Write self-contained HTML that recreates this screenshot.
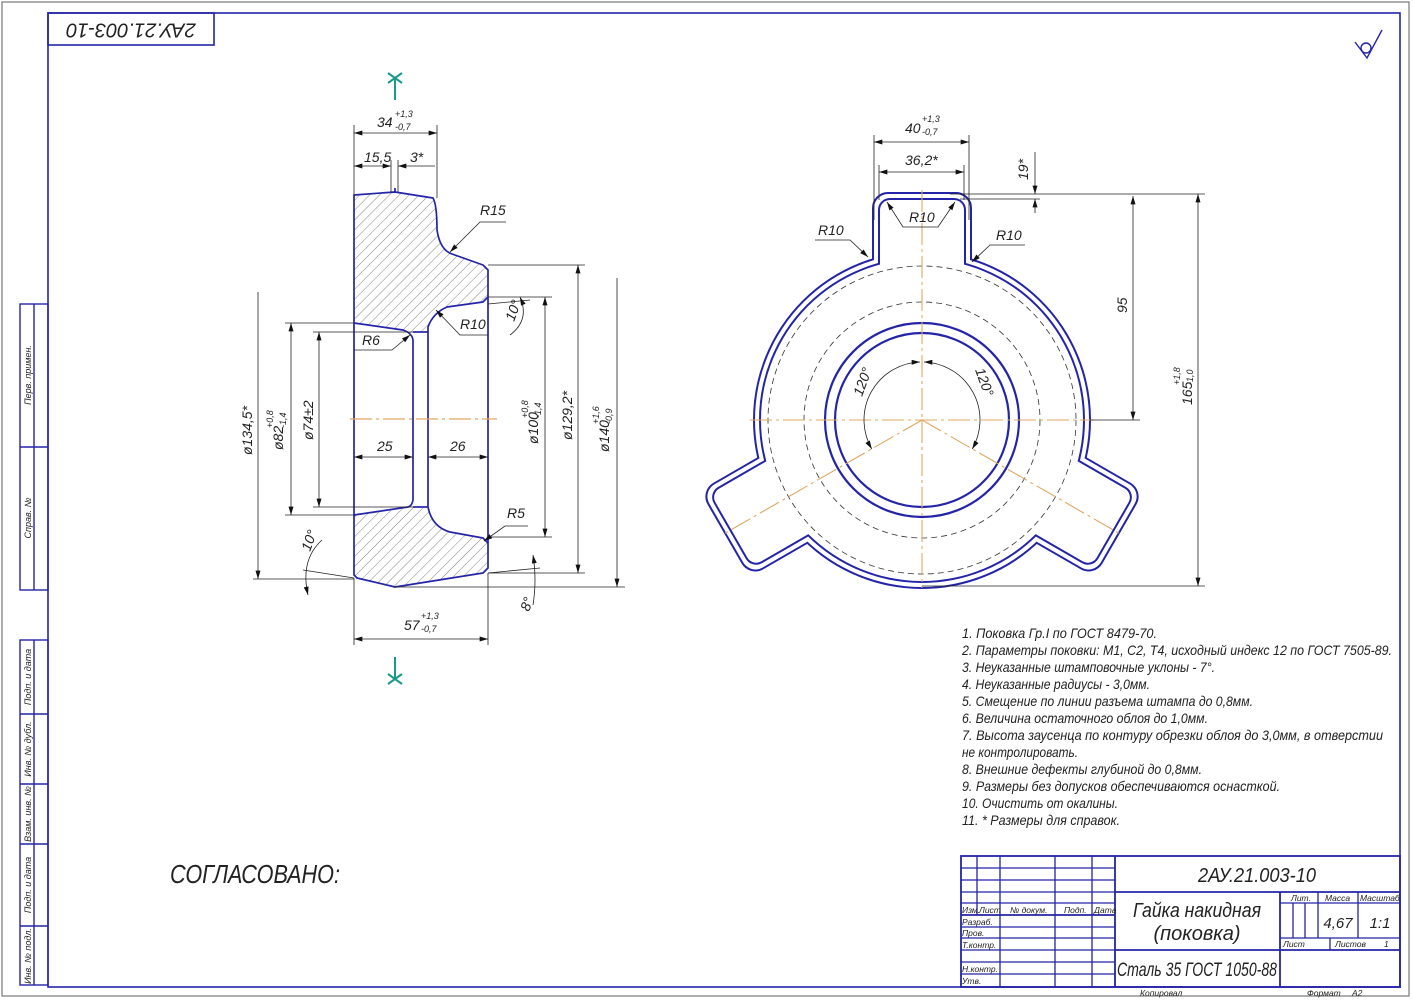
<!DOCTYPE html>
<html><head><meta charset="utf-8"><style>
html,body{margin:0;padding:0;background:#fff}
svg{display:block}
text{font-family:"Liberation Sans",sans-serif;font-style:italic;fill:#222}
</style></head><body>
<svg width="1413" height="1000" viewBox="0 0 1413 1000" xmlns="http://www.w3.org/2000/svg">
<defs>
<marker id="a" viewBox="0 0 10 6" refX="10" refY="3" markerWidth="9" markerHeight="5" markerUnits="userSpaceOnUse" orient="auto-start-reverse"><path d="M0,0 L10,3 L0,6z" fill="#111"/></marker>
<pattern id="h" patternUnits="userSpaceOnUse" width="7" height="7" patternTransform="rotate(45)"><line x1="0" y1="0" x2="0" y2="7" stroke="#666" stroke-width="0.8"/></pattern>
<g id="U1"><circle cx="0" cy="0" r="167"/><rect x="-48" y="-226" width="96" height="140" rx="14"/><rect x="-48" y="-226" width="96" height="140" rx="14" transform="rotate(120)"/><rect x="-48" y="-226" width="96" height="140" rx="14" transform="rotate(240)"/></g>
<g id="U2"><circle cx="0" cy="0" r="161"/><rect x="-42" y="-220" width="84" height="140" rx="10"/><rect x="-42" y="-220" width="84" height="140" rx="10" transform="rotate(120)"/><rect x="-42" y="-220" width="84" height="140" rx="10" transform="rotate(240)"/></g>
</defs>

<!-- outer gray border -->
<rect x="2" y="2" width="1407" height="994" fill="none" stroke="#777" stroke-width="1.2"/>
<!-- blue frame -->
<rect x="48" y="13" width="1352" height="974" fill="none" stroke="#2424a8" stroke-width="1.6"/>
<rect x="48" y="13" width="166" height="32" fill="none" stroke="#2424a8" stroke-width="1.6"/>
<text transform="translate(131,29) rotate(180)" font-size="20" text-anchor="middle" dominant-baseline="middle" fill="#222">2АУ.21.003-10</text>

<!-- left strip -->
<g stroke="#2424a8" stroke-width="1.4" fill="none">
<rect x="20" y="304" width="28" height="286"/><line x1="20" y1="447" x2="48" y2="447"/><line x1="34" y1="304" x2="34" y2="590"/>
<rect x="20" y="640" width="28" height="345"/><line x1="34" y1="640" x2="34" y2="985"/>
<line x1="20" y1="714" x2="48" y2="714"/><line x1="20" y1="784" x2="48" y2="784"/><line x1="20" y1="844" x2="48" y2="844"/><line x1="20" y1="926" x2="48" y2="926"/>
</g>
<g font-size="9">
<text transform="translate(31,375) rotate(-90)" text-anchor="middle">Перв. примен.</text>
<text transform="translate(31,518) rotate(-90)" text-anchor="middle">Справ. №</text>
<text transform="translate(31,677) rotate(-90)" text-anchor="middle">Подп. и дата</text>
<text transform="translate(31,749) rotate(-90)" text-anchor="middle">Инв. № дубл.</text>
<text transform="translate(31,814) rotate(-90)" text-anchor="middle">Взам. инв. №</text>
<text transform="translate(31,885) rotate(-90)" text-anchor="middle">Подп. и дата</text>
<text transform="translate(31,956) rotate(-90)" text-anchor="middle">Инв. № подл.</text>
</g>

<!-- roughness symbol -->
<g stroke="#2424a8" stroke-width="1.4" fill="none"><path d="M1355,42 L1367,58 L1382,30"/><circle cx="1366" cy="48" r="5"/></g>

<!-- ===== LEFT VIEW ===== -->
<g stroke="none" fill="url(#h)">
<path d="M354,195 L395,192 L433,198 Q437,205 437,230 Q440,250 452,254 L483,265 L488,270 L488,297 L483,302 L447,307 Q433,313 428,327 L428,332 L413,332 L412,337 Q410,330 403,330 L354,323 Z"/>
<path d="M354,515 L408,507 L413,507 L428,507 Q432,527 450,532 L483,538 L488,543 L488,568 L483,573 L395,587 L357,578 L354,575 Z"/>
</g>
<g stroke="#2424a8" stroke-width="1.7" fill="none" stroke-linejoin="round">
<path d="M354,195 L395,192 L433,198 Q437,205 437,230 Q440,250 452,254 L483,265 L488,270 L488,568 L483,573 L395,587 L357,578 L354,575 Z"/>
<path d="M488,297 L483,302 L447,307 Q433,313 428,327 L428,507 Q432,527 450,532 L483,538 L488,543"/>
<path d="M354,323 L403,330 Q412,333 413,340 L413,500 Q412,506 408,507 L354,515"/>
<line x1="413" y1="332" x2="428" y2="332"/><line x1="413" y1="507" x2="428" y2="507"/>
<line x1="395" y1="188" x2="395" y2="192"/>
</g>
<line x1="350" y1="419" x2="497" y2="419" stroke="#e0a860" stroke-width="1.2" stroke-dasharray="22,4,3,4"/>

<g stroke="#222" stroke-width="0.8" fill="none">
<!-- ext lines -->
<line x1="354" y1="125" x2="354" y2="195"/><line x1="437" y1="125" x2="437" y2="198"/>
<line x1="391" y1="160" x2="391" y2="192"/><line x1="398" y1="160" x2="398" y2="192"/>
<line x1="354" y1="578" x2="354" y2="645"/><line x1="488" y1="573" x2="488" y2="645"/>
<line x1="253" y1="579" x2="354" y2="579"/><line x1="393" y1="587" x2="625" y2="587"/>
<line x1="285" y1="323" x2="354" y2="323"/><line x1="285" y1="515" x2="354" y2="515"/>
<line x1="313" y1="332" x2="413" y2="332"/><line x1="313" y1="507" x2="413" y2="507"/>
<line x1="488" y1="297" x2="552" y2="297"/><line x1="488" y1="537" x2="552" y2="537"/>
<line x1="488" y1="265" x2="585" y2="265"/><line x1="488" y1="573" x2="585" y2="573"/>
<!-- dims -->
<line x1="354" y1="133" x2="437" y2="133" marker-start="url(#a)" marker-end="url(#a)"/>
<line x1="354" y1="166" x2="391" y2="166" marker-start="url(#a)" marker-end="url(#a)"/>
<line x1="398" y1="166" x2="435" y2="166" marker-start="url(#a)"/>
<line x1="258" y1="292" x2="258" y2="579" marker-end="url(#a)"/>
<line x1="291" y1="323" x2="291" y2="515" marker-start="url(#a)" marker-end="url(#a)"/>
<line x1="319" y1="332" x2="319" y2="507" marker-start="url(#a)" marker-end="url(#a)"/>
<line x1="354" y1="457" x2="413" y2="457" marker-start="url(#a)" marker-end="url(#a)"/>
<line x1="428" y1="457" x2="488" y2="457" marker-start="url(#a)" marker-end="url(#a)"/>
<line x1="545" y1="297" x2="545" y2="537" marker-start="url(#a)" marker-end="url(#a)"/>
<line x1="578" y1="265" x2="578" y2="573" marker-start="url(#a)" marker-end="url(#a)"/>
<line x1="617" y1="278" x2="617" y2="587" marker-end="url(#a)"/>
<line x1="354" y1="639" x2="488" y2="639" marker-start="url(#a)" marker-end="url(#a)"/>
<!-- leaders -->
<polyline points="450,252 480,222 506,222" marker-start="url(#a)"/>
<polyline points="436,310 460,335 488,335" marker-start="url(#a)"/>
<polyline points="410,335 392,350 354,350" marker-start="url(#a)"/>
<polyline points="484,541 505,526 528,526" marker-start="url(#a)"/>
<!-- angle lines -->
<line x1="488" y1="304" x2="530" y2="300"/><path d="M520,297 Q530,320 510,335" marker-start="url(#a)"/>
<line x1="354" y1="578" x2="303" y2="570"/><path d="M322,540 Q300,560 308,595" marker-end="url(#a)"/>
<line x1="488" y1="573" x2="540" y2="568"/><path d="M533,555 Q537,580 533,605" marker-start="url(#a)"/>
</g>
<g font-size="14">
<text x="377" y="127">34</text><text x="395" y="117" font-size="9">+1,3</text><text x="395" y="130" font-size="9">-0,7</text>
<text x="364" y="162">15,5</text><text x="410" y="162">3*</text>
<text x="480" y="215">R15</text>
<text x="460" y="329">R10</text>
<text x="362" y="345">R6</text>
<text x="507" y="518">R5</text>
<text x="377" y="451">25</text><text x="450" y="451">26</text>
<text x="404" y="630">57</text><text x="421" y="619" font-size="9">+1,3</text><text x="421" y="632" font-size="9">-0,7</text>
<text transform="translate(252,455) rotate(-90)">ø134,5*</text>
<text transform="translate(283,450) rotate(-90)">ø82</text><text transform="translate(273,428) rotate(-90)" font-size="9">+0,8</text><text transform="translate(286,428) rotate(-90)" font-size="9">-1,4</text>
<text transform="translate(313,440) rotate(-90)">ø74±2</text>
<text transform="translate(538,444) rotate(-90)">ø100</text><text transform="translate(528,418) rotate(-90)" font-size="9">+0,8</text><text transform="translate(541,418) rotate(-90)" font-size="9">-1,4</text>
<text transform="translate(572,440) rotate(-90)">ø129,2*</text>
<text transform="translate(609,452) rotate(-90)">ø140</text><text transform="translate(599,424) rotate(-90)" font-size="9">+1,6</text><text transform="translate(612,424) rotate(-90)" font-size="9">-0,9</text>
<text transform="translate(514,322) rotate(-70)">10°</text>
<text transform="translate(310,552) rotate(-70)">10°</text>
<text transform="translate(529,612) rotate(-70)">8°</text>
</g>
<!-- section marks -->
<g stroke="#1a9a8a" stroke-width="2" fill="none">
<line x1="395" y1="78" x2="395" y2="100"/><line x1="388" y1="73" x2="402" y2="83"/><line x1="402" y1="73" x2="388" y2="83"/>
<line x1="395" y1="657" x2="395" y2="680"/><line x1="388" y1="674" x2="402" y2="684"/><line x1="402" y1="674" x2="388" y2="684"/>
</g>

<!-- ===== RIGHT VIEW ===== -->
<g transform="translate(922,420)">
<use href="#U1" fill="none" stroke="#2424a8" stroke-width="4"/>
<use href="#U1" fill="#fff" stroke="none"/>
<use href="#U2" fill="none" stroke="#2424a8" stroke-width="4"/>
<use href="#U2" fill="#fff" stroke="none"/>
<circle r="154" fill="none" stroke="#333" stroke-width="0.8" stroke-dasharray="6,4"/>
<circle r="118" fill="none" stroke="#333" stroke-width="0.8" stroke-dasharray="6,4"/>
<circle r="97" fill="none" stroke="#2424a8" stroke-width="2.2"/>
<circle r="87" fill="none" stroke="#2424a8" stroke-width="2.2"/>
<g stroke="#e0a860" stroke-width="1.1" stroke-dasharray="22,4,3,4">
<line x1="-172" y1="0" x2="172" y2="0"/><line x1="0" y1="-230" x2="0" y2="168"/>
<line x1="0" y1="0" x2="-200" y2="115"/><line x1="0" y1="0" x2="200" y2="115"/>
</g>
<g stroke="#222" stroke-width="0.8" fill="none">
<path d="M-2,-58 A58,58 0 0 0 -50.2,29" marker-start="url(#a)" marker-end="url(#a)"/>
<path d="M2,-58 A58,58 0 0 1 50.2,29" marker-start="url(#a)" marker-end="url(#a)"/>
</g>
</g>
<g stroke="#222" stroke-width="0.8" fill="none">
<line x1="874" y1="135" x2="874" y2="220"/><line x1="969" y1="135" x2="969" y2="220"/>
<line x1="879" y1="165" x2="879" y2="200"/><line x1="964" y1="165" x2="964" y2="200"/>
<line x1="874" y1="142" x2="969" y2="142" marker-start="url(#a)" marker-end="url(#a)"/>
<line x1="879" y1="172" x2="964" y2="172" marker-start="url(#a)" marker-end="url(#a)"/>
<line x1="950" y1="194" x2="1205" y2="194"/><line x1="960" y1="199" x2="1040" y2="199"/>
<line x1="1035" y1="152" x2="1035" y2="194" marker-end="url(#a)"/><line x1="1035" y1="213" x2="1035" y2="199" marker-end="url(#a)"/>
<line x1="1090" y1="420" x2="1140" y2="420"/><line x1="922" y1="586" x2="1205" y2="586"/>
<line x1="1133" y1="196" x2="1133" y2="420" marker-start="url(#a)" marker-end="url(#a)"/>
<line x1="1198" y1="194" x2="1198" y2="586" marker-start="url(#a)" marker-end="url(#a)"/>
<polyline points="887,202 903,227 938,227 955,202" marker-start="url(#a)" marker-end="url(#a)"/>
<polyline points="815,240 850,240 868,257" marker-end="url(#a)"/>
<polyline points="1025,245 990,245 972,262" marker-end="url(#a)"/>
</g>
<g font-size="14">
<text x="905" y="133">40</text><text x="922" y="122" font-size="9">+1,3</text><text x="922" y="135" font-size="9">-0,7</text>
<text x="905" y="165">36,2*</text>
<text transform="translate(1028,180) rotate(-90)">19*</text>
<text x="909" y="222">R10</text>
<text x="818" y="235">R10</text>
<text x="996" y="240">R10</text>
<text transform="translate(1127,313) rotate(-90)">95</text>
<text transform="translate(1192,405) rotate(-90)">165</text><text transform="translate(1180,385) rotate(-90)" font-size="9">+1,8</text><text transform="translate(1193,385) rotate(-90)" font-size="9">-1,0</text>
<text transform="translate(862,397) rotate(-70)">120°</text>
<text transform="translate(975,370) rotate(70)">120°</text>
</g>

<!-- notes -->
<g font-size="14" fill="#222">
<text x="962" y="638" textLength="195" lengthAdjust="spacingAndGlyphs">1. Поковка Гр.I по ГОСТ 8479-70.</text>
<text x="962" y="655" textLength="430" lengthAdjust="spacingAndGlyphs">2. Параметры поковки: М1, С2, Т4, исходный индекс 12 по ГОСТ 7505-89.</text>
<text x="962" y="672" textLength="253" lengthAdjust="spacingAndGlyphs">3. Неуказанные штамповочные уклоны - 7°.</text>
<text x="962" y="689" textLength="188" lengthAdjust="spacingAndGlyphs">4. Неуказанные радиусы - 3,0мм.</text>
<text x="962" y="706" textLength="291" lengthAdjust="spacingAndGlyphs">5. Смещение по линии разъема штампа до 0,8мм.</text>
<text x="962" y="723" textLength="246" lengthAdjust="spacingAndGlyphs">6. Величина остаточного облоя до 1,0мм.</text>
<text x="962" y="740" textLength="421" lengthAdjust="spacingAndGlyphs">7. Высота заусенца по контуру обрезки облоя до 3,0мм, в отверстии</text>
<text x="962" y="757" textLength="116" lengthAdjust="spacingAndGlyphs">не контролировать.</text>
<text x="962" y="774" textLength="240" lengthAdjust="spacingAndGlyphs">8. Внешние дефекты глубиной до 0,8мм.</text>
<text x="962" y="791" textLength="318" lengthAdjust="spacingAndGlyphs">9. Размеры без допусков обеспечиваются оснасткой.</text>
<text x="962" y="808" textLength="156" lengthAdjust="spacingAndGlyphs">10. Очистить от окалины.</text>
<text x="962" y="825" textLength="158" lengthAdjust="spacingAndGlyphs">11. * Размеры для справок.</text>
</g>

<text x="170" y="883" font-size="26" textLength="170" lengthAdjust="spacingAndGlyphs">СОГЛАСОВАНО:</text>

<!-- title block -->
<g stroke="#2424a8" stroke-width="1.3" fill="none">
<rect x="961" y="856" width="439" height="131" stroke-width="1.8"/>
<line x1="977" y1="856" x2="977" y2="915"/>
<line x1="1000" y1="856" x2="1000" y2="987"/>
<line x1="1055" y1="856" x2="1055" y2="987"/>
<line x1="1092" y1="856" x2="1092" y2="987"/>
<line x1="1115" y1="856" x2="1115" y2="987" stroke-width="1.8"/>
<line x1="961" y1="868" x2="1115" y2="868"/><line x1="961" y1="880" x2="1115" y2="880"/><line x1="961" y1="892" x2="1115" y2="892"/>
<line x1="961" y1="903" x2="1115" y2="903"/><line x1="961" y1="915" x2="1115" y2="915" stroke-width="1.8"/>
<line x1="961" y1="927" x2="1115" y2="927"/><line x1="961" y1="938" x2="1115" y2="938"/><line x1="961" y1="950" x2="1115" y2="950"/>
<line x1="961" y1="962" x2="1115" y2="962"/><line x1="961" y1="974" x2="1115" y2="974"/>
<line x1="1115" y1="892" x2="1400" y2="892" stroke-width="1.8"/>
<line x1="1115" y1="950" x2="1400" y2="950" stroke-width="1.8"/>
<line x1="1280" y1="892" x2="1280" y2="987" stroke-width="1.8"/>
<line x1="1280" y1="903" x2="1400" y2="903"/><line x1="1280" y1="938" x2="1400" y2="938"/>
<line x1="1318" y1="892" x2="1318" y2="938"/><line x1="1358" y1="892" x2="1358" y2="938"/>
<line x1="1293" y1="903" x2="1293" y2="938"/><line x1="1305" y1="903" x2="1305" y2="938"/>
<line x1="1330" y1="938" x2="1330" y2="950"/>
</g>
<g font-size="8.5">
<text x="962" y="913">Изм.</text><text x="979" y="913">Лист</text><text x="1010" y="913">№ докум.</text><text x="1064" y="913">Подп.</text><text x="1094" y="913">Дата</text>
<text x="962" y="925">Разраб.</text><text x="962" y="936">Пров.</text><text x="962" y="948">Т.контр.</text>
<text x="962" y="972">Н.контр.</text><text x="962" y="984">Утв.</text>
<text x="1291" y="901">Лит.</text><text x="1325" y="901">Масса</text><text x="1360" y="901">Масштаб</text>
<text x="1283" y="947">Лист</text><text x="1335" y="947">Листов</text><text x="1384" y="947">1</text>
<text x="1140" y="996">Копировал</text><text x="1307" y="996">Формат</text><text x="1352" y="996">A2</text>
</g>
<g font-size="20">
<text x="1257" y="882" text-anchor="middle" textLength="118" lengthAdjust="spacingAndGlyphs">2АУ.21.003-10</text>
<text x="1197" y="917" text-anchor="middle" textLength="128" lengthAdjust="spacingAndGlyphs">Гайка накидная</text>
<text x="1197" y="940" text-anchor="middle">(поковка)</text>
<text x="1197" y="976" text-anchor="middle" fill="#555" font-size="19" textLength="160" lengthAdjust="spacingAndGlyphs">Сталь 35 ГОСТ 1050-88</text>
<text x="1338" y="928" text-anchor="middle" font-size="15">4,67</text>
<text x="1380" y="928" text-anchor="middle" font-size="15">1:1</text>
</g>
</svg>
</body></html>
